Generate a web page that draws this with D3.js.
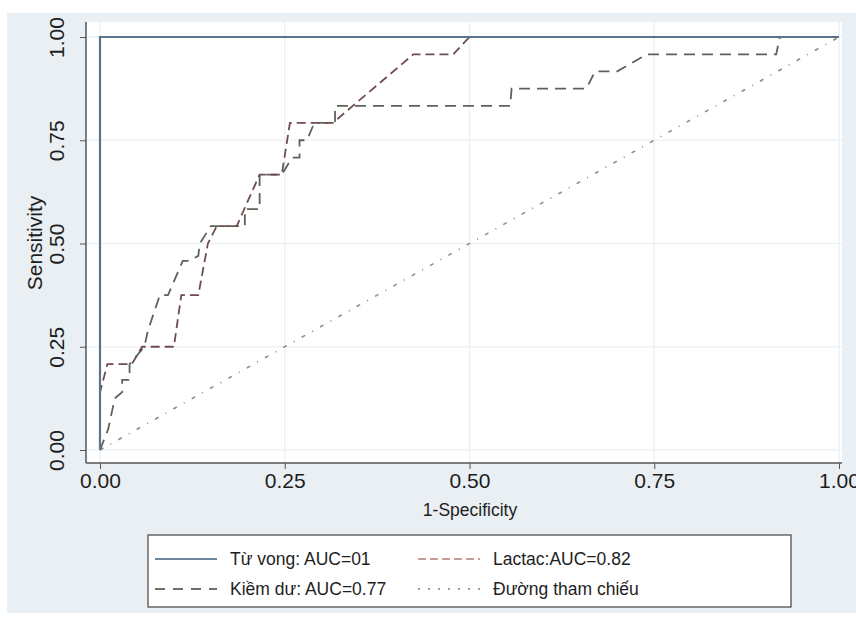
<!DOCTYPE html>
<html>
<head>
<meta charset="utf-8">
<title>ROC</title>
<script src="https://cdn.jsdelivr.net/npm/d3@7"></script>
<style>
    body { margin: 0; background: #ffffff; }
    text { font-family: "Liberation Sans", Arial, sans-serif; fill: #1e1e1e; }
</style>
</head>
<body>
<svg id="rocSVG" width="856" height="617"></svg>
<script>
// tick values on both axes
var tickVals = [0, 0.25, 0.5, 0.75, 1];

// Tu vong (perfect classifier)
var tvX = [0, 0, 1];
var tvY = [0, 1, 1];

// Lactac
var lacX = [0, 0, 0.01, 0.043, 0.057, 0.10, 0.11, 0.133, 0.146, 0.158, 0.185, 0.216, 0.246, 0.257, 0.315, 0.424, 0.478, 0.5, 1];
var lacY = [0, 0.14, 0.208, 0.208, 0.25, 0.25, 0.375, 0.375, 0.5, 0.542, 0.542, 0.667, 0.667, 0.792, 0.792, 0.958, 0.958, 1, 1];

// Kiem du
var kdX = [0, 0.011, 0.02, 0.03, 0.03, 0.04, 0.04, 0.06, 0.065, 0.081, 0.092, 0.112, 0.12, 0.133, 0.135, 0.15, 0.185, 0.196, 0.196, 0.216, 0.216, 0.246, 0.26, 0.27, 0.27, 0.28, 0.29, 0.318, 0.318, 0.555, 0.557, 0.658, 0.67, 0.70, 0.74, 0.915, 0.92, 1];
var kdY = [0, 0.05, 0.125, 0.14, 0.17, 0.17, 0.208, 0.25, 0.29, 0.375, 0.375, 0.458, 0.458, 0.47, 0.5, 0.542, 0.542, 0.542, 0.583, 0.583, 0.667, 0.667, 0.708, 0.708, 0.75, 0.75, 0.792, 0.792, 0.833, 0.833, 0.875, 0.875, 0.917, 0.917, 0.958, 0.958, 1, 1];

// reference line
var refX = [0, 1];
var refY = [0, 1];

var legendLabels = ["Từ vong: AUC=01", "Lactac:AUC=0.82", "Kiềm dư: AUC=0.77", "Đường tham chiếu"];

window.onload = function() {
    var svg = d3.select("#rocSVG");

    // graph region + plot region
    svg.append("rect").attr("x", 7).attr("y", 13).attr("width", 849).attr("height", 600)
        .attr("fill", "#e9eff2");
    svg.append("rect").attr("x", 86).attr("y", 22).attr("width", 756).attr("height", 441)
        .attr("fill", "#ffffff");

    var xScale = d3.scaleLinear().domain([0, 1]).range([100, 839]);
    var yScale = d3.scaleLinear().domain([0, 1]).range([450, 37]);

    // grid
    svg.append("g").selectAll("line").data(tickVals).enter().append("line")
        .attr("x1", function(d) { return xScale(d); })
        .attr("x2", function(d) { return xScale(d); })
        .attr("y1", 22).attr("y2", 463)
        .attr("stroke", "#eef2f4").attr("stroke-width", 1.5);
    svg.append("g").selectAll("line").data(tickVals).enter().append("line")
        .attr("y1", function(d) { return yScale(d); })
        .attr("y2", function(d) { return yScale(d); })
        .attr("x1", 86).attr("x2", 842)
        .attr("stroke", "#eef2f4").attr("stroke-width", 1.5);

    // axes
    var xAxis = d3.axisBottom(xScale).tickValues(tickVals).tickFormat(d3.format(".2f"))
        .tickSize(6).tickPadding(6);
    var yAxis = d3.axisLeft(yScale).tickValues(tickVals).tickFormat(d3.format(".2f"))
        .tickSize(6);

    var gx = svg.append("g").attr("transform", "translate(0,463)").call(xAxis);
    gx.select(".domain").remove();
    gx.selectAll("line").attr("stroke", "#555");
    gx.selectAll("text").style("font-size", "21px").attr("fill", "#1e1e1e")
        .attr("y", 10).attr("dy", "0.71em");

    var gy = svg.append("g").attr("transform", "translate(86,0)").call(yAxis);
    gy.select(".domain").remove();
    gy.selectAll("line").attr("stroke", "#555");
    gy.selectAll("text").style("font-size", "21px").attr("fill", "#1e1e1e")
        .attr("transform", "rotate(-90)")
        .attr("text-anchor", "middle")
        .attr("x", 0).attr("y", -29).attr("dy", "0.35em");

    svg.append("line").attr("x1", 86).attr("x2", 842).attr("y1", 463).attr("y2", 463)
        .attr("stroke", "#555").attr("stroke-width", 1.5);
    svg.append("line").attr("x1", 86).attr("x2", 86).attr("y1", 22).attr("y2", 463)
        .attr("stroke", "#555").attr("stroke-width", 1.5);

    // axis titles
    svg.append("text").attr("x", 470).attr("y", 510).attr("dy", "0.35em")
        .attr("text-anchor", "middle").style("font-size", "17.5px").text("1-Specificity");
    svg.append("text").attr("transform", "translate(35,243) rotate(-90)").attr("dy", "0.35em")
        .attr("text-anchor", "middle").style("font-size", "21px").text("Sensitivity");

    // curves
    var line = d3.line()
        .x(function(d) { return xScale(d[0]); })
        .y(function(d) { return yScale(d[1]); });

    var series = [
        { x: refX, y: refY, color: "#8a8f8a", dash: "4,8,1,8", width: 1.6 },
        { x: kdX, y: kdY, color: "#5b6356", dash: "11,7", width: 1.8 },
        { x: lacX, y: lacY, color: "#6e4c50", dash: "9,5", width: 1.8 },
        { x: tvX, y: tvY, color: "#5b7290", dash: null, width: 2.2 }
    ];

    series.forEach(function(s) {
        var pts = s.x.map(function(v, i) { return [v, s.y[i]]; });
        svg.append("path").datum(pts)
            .attr("d", line)
            .attr("fill", "none")
            .attr("stroke", s.color)
            .attr("stroke-width", s.width)
            .attr("stroke-dasharray", s.dash);
    });

    // legend
    svg.append("rect").attr("x", 148).attr("y", 535).attr("width", 643).attr("height", 72)
        .attr("fill", "#ffffff").attr("stroke", "#444").attr("stroke-width", 1.2);

    var legStyles = [
        { color: "#6d86a0", dash: null },
        { color: "#c99a9a", dash: "8,4" },
        { color: "#6a7062", dash: "10,8" },
        { color: "#9a9f9a", dash: "2,8" }
    ];
    var legPos = [[155, 559], [418, 559], [155, 589], [418, 589]];

    legendLabels.forEach(function(lbl, i) {
        var p = legPos[i];
        svg.append("line").attr("x1", p[0]).attr("x2", p[0] + 62)
            .attr("y1", p[1]).attr("y2", p[1])
            .attr("stroke", legStyles[i].color).attr("stroke-width", 2)
            .attr("stroke-dasharray", legStyles[i].dash);
        svg.append("text").attr("x", p[0] + 75).attr("y", p[1]).attr("dy", "0.35em")
            .style("font-size", "17.5px").text(lbl);
    });
};
</script>
</body>
</html>
